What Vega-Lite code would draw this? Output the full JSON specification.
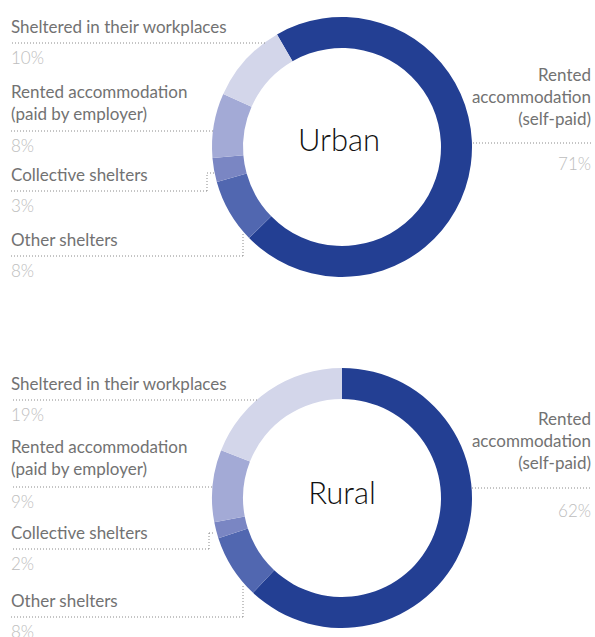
{
  "$schema": "https://vega.github.io/schema/vega-lite/v6.json",
  "padding": 0,
  "spacing": 0,
  "background": "white",
  "config": {"view": {"stroke": null}, "font": "Lato"},
  "datasets": {
    "urban": [
      {"region": "Urban", "category": "Rented accommodation (self-paid)", "label": "Rented\naccommodation\n(self-paid)", "seq": 1, "value": 0.71},
      {"region": "Urban", "category": "Other shelters", "label": "Other shelters", "seq": 2, "value": 0.08},
      {"region": "Urban", "category": "Collective shelters", "label": "Collective shelters", "seq": 3, "value": 0.03},
      {"region": "Urban", "category": "Rented accommodation (paid by employer)", "label": "Rented accommodation\n(paid by employer)", "seq": 4, "value": 0.08},
      {"region": "Urban", "category": "Sheltered in their workplaces", "label": "Sheltered in their workplaces", "seq": 5, "value": 0.10}
    ],
    "rural": [
      {"region": "Rural", "category": "Rented accommodation (self-paid)", "label": "Rented\naccommodation\n(self-paid)", "seq": 1, "value": 0.62},
      {"region": "Rural", "category": "Other shelters", "label": "Other shelters", "seq": 2, "value": 0.08},
      {"region": "Rural", "category": "Collective shelters", "label": "Collective shelters", "seq": 3, "value": 0.02},
      {"region": "Rural", "category": "Rented accommodation (paid by employer)", "label": "Rented accommodation\n(paid by employer)", "seq": 4, "value": 0.09},
      {"region": "Rural", "category": "Sheltered in their workplaces", "label": "Sheltered in their workplaces", "seq": 5, "value": 0.19}
    ]
  },
  "resolve": {"scale": {"theta": "independent", "x": "independent", "y": "independent"}},
  "vconcat": [
    {
      "width": 595,
      "height": 318,
      "data": {"name": "urban"},
      "layer": [
        {
          "mark": {"type": "arc", "outerRadius": 130, "innerRadius": 99, "x": 342, "y": 147},
          "encoding": {
            "theta": {"field": "value", "type": "quantitative", "stack": true, "scale": {"range": [-0.5236, 5.7596]}},
            "color": {"field": "category", "type": "nominal", "legend": null,
              "scale": {"domain": ["Rented accommodation (self-paid)", "Other shelters", "Collective shelters", "Rented accommodation (paid by employer)", "Sheltered in their workplaces"],
                        "range": ["#233F93", "#5167B0", "#7A86C3", "#A3AAD6", "#D3D6EA"]}},
            "order": {"field": "seq", "type": "quantitative"}
          }
        },
        {
          "transform": [{"filter": "datum.seq > 1"}],
          "mark": {"type": "rule", "strokeDash": [1, 2], "color": "#8a8a8a", "strokeWidth": 1},
          "encoding": {
            "x": {"field": "seq", "type": "quantitative", "axis": null, "scale": {"domain": [1, 2, 3, 4, 5], "range": [473, 243, 207, 213, 265], "zero": false, "nice": false}},
            "x2": {"value": 11},
            "y": {"field": "seq", "type": "quantitative", "axis": null, "scale": {"domain": [1, 2, 3, 4, 5], "range": [143, 256, 191, 131, 43], "zero": false, "nice": false}}
          }
        },
        {
          "transform": [{"filter": "datum.seq == 1"}],
          "mark": {"type": "rule", "strokeDash": [1, 2], "color": "#8a8a8a", "strokeWidth": 1},
          "encoding": {
            "x": {"field": "seq", "type": "quantitative"},
            "x2": {"value": 592},
            "y": {"field": "seq", "type": "quantitative"}
          }
        },
        {
          "transform": [{"filter": "datum.seq == 3"}],
          "mark": {"type": "rule", "strokeDash": [1, 2], "color": "#8a8a8a", "strokeWidth": 1, "y2Offset": -18},
          "encoding": {
            "x": {"field": "seq", "type": "quantitative"},
            "y": {"field": "seq", "type": "quantitative"},
            "y2": {"field": "seq"}
          }
        },
        {
          "transform": [{"filter": "datum.seq == 3"}],
          "mark": {"type": "rule", "strokeDash": [1, 2], "color": "#8a8a8a", "strokeWidth": 1, "yOffset": -18, "x2Offset": 7},
          "encoding": {
            "x": {"field": "seq", "type": "quantitative"},
            "x2": {"field": "seq"},
            "y": {"field": "seq", "type": "quantitative"}
          }
        },
        {
          "transform": [{"filter": "datum.seq == 2"}],
          "mark": {"type": "rule", "strokeDash": [1, 2], "color": "#8a8a8a", "strokeWidth": 1, "y2Offset": -23},
          "encoding": {
            "x": {"field": "seq", "type": "quantitative"},
            "y": {"field": "seq", "type": "quantitative"},
            "y2": {"field": "seq"}
          }
        },
        {
          "transform": [{"filter": "datum.seq > 1 && datum.seq != 4"}],
          "mark": {"type": "text", "align": "left", "baseline": "bottom", "dy": -6, "fontSize": 17, "color": "#727272", "lineBreak": "\n", "lineHeight": 22, "x": 11},
          "encoding": {
            "y": {"field": "seq", "type": "quantitative"},
            "text": {"field": "label"}
          }
        },
        {
          "transform": [{"filter": "datum.seq == 4"}],
          "mark": {"type": "text", "align": "left", "baseline": "bottom", "dy": -29, "fontSize": 17, "color": "#727272", "lineBreak": "\n", "lineHeight": 22, "x": 11},
          "encoding": {
            "y": {"field": "seq", "type": "quantitative"},
            "text": {"field": "label"}
          }
        },
        {
          "transform": [{"filter": "datum.seq > 1"}],
          "mark": {"type": "text", "align": "left", "baseline": "alphabetic", "dy": 21, "fontSize": 17, "fontWeight": 300, "color": "#bdbdbd", "x": 11},
          "encoding": {
            "y": {"field": "seq", "type": "quantitative"},
            "text": {"field": "value", "type": "quantitative", "format": ".0%"}
          }
        },
        {
          "transform": [{"filter": "datum.seq == 1"}],
          "mark": {"type": "text", "align": "right", "baseline": "bottom", "dy": -58, "fontSize": 17, "color": "#727272", "lineBreak": "\n", "lineHeight": 22, "x": 591},
          "encoding": {
            "y": {"field": "seq", "type": "quantitative"},
            "text": {"field": "label"}
          }
        },
        {
          "transform": [{"filter": "datum.seq == 1"}],
          "mark": {"type": "text", "align": "right", "baseline": "alphabetic", "dy": 27, "fontSize": 17, "fontWeight": 300, "color": "#bdbdbd", "x": 591},
          "encoding": {
            "y": {"field": "seq", "type": "quantitative"},
            "text": {"field": "value", "type": "quantitative", "format": ".0%"}
          }
        },
        {
          "transform": [{"filter": "datum.seq == 1"}],
          "mark": {"type": "text", "align": "center", "baseline": "middle", "fontSize": 31, "fontWeight": 300, "color": "#111111", "x": 339, "y": 142},
          "encoding": {"text": {"field": "region"}}
        }
      ]
    },
    {
      "width": 595,
      "height": 319,
      "data": {"name": "rural"},
      "layer": [
        {
          "mark": {"type": "arc", "outerRadius": 130, "innerRadius": 99, "x": 342, "y": 180},
          "encoding": {
            "theta": {"field": "value", "type": "quantitative", "stack": true, "scale": {"range": [0, 6.2832]}},
            "color": {"field": "category", "type": "nominal", "legend": null,
              "scale": {"domain": ["Rented accommodation (self-paid)", "Other shelters", "Collective shelters", "Rented accommodation (paid by employer)", "Sheltered in their workplaces"],
                        "range": ["#233F93", "#5167B0", "#7A86C3", "#A3AAD6", "#D3D6EA"]}},
            "order": {"field": "seq", "type": "quantitative"}
          }
        },
        {
          "transform": [{"filter": "datum.seq > 1"}],
          "mark": {"type": "rule", "strokeDash": [1, 2], "color": "#8a8a8a", "strokeWidth": 1},
          "encoding": {
            "x": {"field": "seq", "type": "quantitative", "axis": null, "scale": {"domain": [1, 2, 3, 4, 5], "range": [472, 243, 209, 212, 257], "zero": false, "nice": false}},
            "x2": {"value": 11},
            "y": {"field": "seq", "type": "quantitative", "axis": null, "scale": {"domain": [1, 2, 3, 4, 5], "range": [170, 299, 231, 169, 82], "zero": false, "nice": false}}
          }
        },
        {
          "transform": [{"filter": "datum.seq == 1"}],
          "mark": {"type": "rule", "strokeDash": [1, 2], "color": "#8a8a8a", "strokeWidth": 1},
          "encoding": {
            "x": {"field": "seq", "type": "quantitative"},
            "x2": {"value": 592},
            "y": {"field": "seq", "type": "quantitative"}
          }
        },
        {
          "transform": [{"filter": "datum.seq == 3"}],
          "mark": {"type": "rule", "strokeDash": [1, 2], "color": "#8a8a8a", "strokeWidth": 1, "y2Offset": -16},
          "encoding": {
            "x": {"field": "seq", "type": "quantitative"},
            "y": {"field": "seq", "type": "quantitative"},
            "y2": {"field": "seq"}
          }
        },
        {
          "transform": [{"filter": "datum.seq == 3"}],
          "mark": {"type": "rule", "strokeDash": [1, 2], "color": "#8a8a8a", "strokeWidth": 1, "yOffset": -16, "x2Offset": 6},
          "encoding": {
            "x": {"field": "seq", "type": "quantitative"},
            "x2": {"field": "seq"},
            "y": {"field": "seq", "type": "quantitative"}
          }
        },
        {
          "transform": [{"filter": "datum.seq == 2"}],
          "mark": {"type": "rule", "strokeDash": [1, 2], "color": "#8a8a8a", "strokeWidth": 1, "y2Offset": -31},
          "encoding": {
            "x": {"field": "seq", "type": "quantitative"},
            "y": {"field": "seq", "type": "quantitative"},
            "y2": {"field": "seq"}
          }
        },
        {
          "transform": [{"filter": "datum.seq > 1 && datum.seq != 4"}],
          "mark": {"type": "text", "align": "left", "baseline": "bottom", "dy": -6, "fontSize": 17, "color": "#727272", "lineBreak": "\n", "lineHeight": 22, "x": 11},
          "encoding": {
            "y": {"field": "seq", "type": "quantitative"},
            "text": {"field": "label"}
          }
        },
        {
          "transform": [{"filter": "datum.seq == 4"}],
          "mark": {"type": "text", "align": "left", "baseline": "bottom", "dy": -30, "fontSize": 17, "color": "#727272", "lineBreak": "\n", "lineHeight": 22, "x": 11},
          "encoding": {
            "y": {"field": "seq", "type": "quantitative"},
            "text": {"field": "label"}
          }
        },
        {
          "transform": [{"filter": "datum.seq > 1"}],
          "mark": {"type": "text", "align": "left", "baseline": "alphabetic", "dy": 21, "fontSize": 17, "fontWeight": 300, "color": "#bdbdbd", "x": 11},
          "encoding": {
            "y": {"field": "seq", "type": "quantitative"},
            "text": {"field": "value", "type": "quantitative", "format": ".0%"}
          }
        },
        {
          "transform": [{"filter": "datum.seq == 1"}],
          "mark": {"type": "text", "align": "right", "baseline": "bottom", "dy": -59, "fontSize": 17, "color": "#727272", "lineBreak": "\n", "lineHeight": 22, "x": 591},
          "encoding": {
            "y": {"field": "seq", "type": "quantitative"},
            "text": {"field": "label"}
          }
        },
        {
          "transform": [{"filter": "datum.seq == 1"}],
          "mark": {"type": "text", "align": "right", "baseline": "alphabetic", "dy": 29, "fontSize": 17, "fontWeight": 300, "color": "#bdbdbd", "x": 591},
          "encoding": {
            "y": {"field": "seq", "type": "quantitative"},
            "text": {"field": "value", "type": "quantitative", "format": ".0%"}
          }
        },
        {
          "transform": [{"filter": "datum.seq == 1"}],
          "mark": {"type": "text", "align": "center", "baseline": "middle", "fontSize": 31, "fontWeight": 300, "color": "#111111", "x": 342, "y": 177},
          "encoding": {"text": {"field": "region"}}
        }
      ]
    }
  ]
}
